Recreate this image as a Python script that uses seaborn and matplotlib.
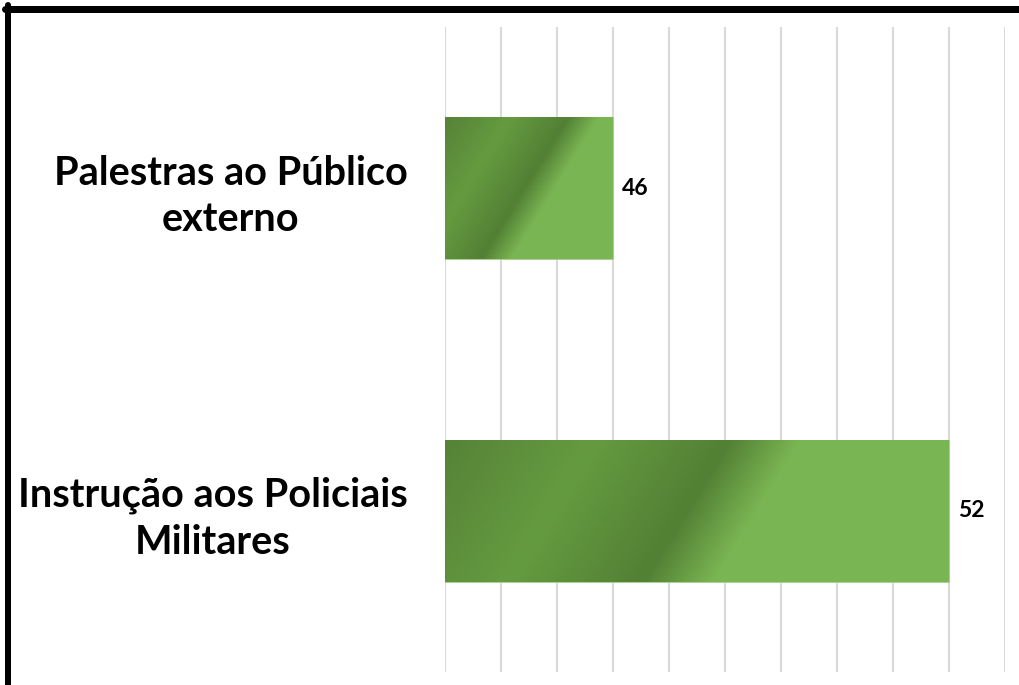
import numpy as np
import pandas as pd
import matplotlib
matplotlib.use("Agg")
import matplotlib.pyplot as plt
import matplotlib.colors as mcolors
from matplotlib.lines import Line2D
import seaborn as sns

categories = ["Palestras ao Público\nexterno", "Instrução aos Policiais\nMilitares"]
values = [46, 52]
x_min, x_max = 43, 53

sns.set_theme(style="white")
plt.rcParams['font.family'] = ['Lato', 'DejaVu Sans']

df = pd.DataFrame({"cat": categories, "val": values})

W, H = 1019, 685
fig = plt.figure(figsize=(W / 100, H / 100), dpi=100)
ax = fig.add_axes([445 / W, 13 / H, 560 / W, 645 / H])

sns.barplot(data=df, x="val", y="cat", orient="h", color="#6aa84f", width=0.44, ax=ax)

ax.set_xlim(x_min, x_max)
ax.set_ylim(1.5, -0.5)
ax.set_xticks(np.arange(x_min, x_max + 1, 1))
ax.xaxis.grid(True, color="#d9d9d9", linewidth=1.5)
ax.set_axisbelow(True)
ax.tick_params(axis="x", labelbottom=False, length=0)
ax.tick_params(axis="y", length=0, pad=27)
for s in ax.spines.values():
    s.set_visible(False)
ax.set_xlabel("")
ax.set_ylabel("")
for lbl in ax.get_yticklabels():
    lbl.set_fontsize(28.5)
    lbl.set_fontweight("bold")
    lbl.set_color("black")
    lbl.set_multialignment("center")
    lbl.set_linespacing(1.3)

# gradient fill
cmap = mcolors.LinearSegmentedColormap.from_list(
    "g", [(0.0, "#568337"), (0.25, "#659b40"), (0.48, "#528034"),
          (0.6, "#7ab553"), (1.0, "#7bb654")])
px_per_x = 560 / (x_max - x_min)
px_per_y = 645 / 2.0
tilt = 0.62
for patch in ax.patches:
    x0 = max(patch.get_x(), x_min)
    x1 = patch.get_x() + patch.get_width()
    y0 = patch.get_y()
    y1 = y0 + patch.get_height()
    wpx = int((x1 - x0) * px_per_x)
    hpx = int(abs(y1 - y0) * px_per_y)
    xx, yy = np.meshgrid(np.arange(wpx), np.arange(hpx))
    p = (xx + tilt * yy) / (wpx + tilt * hpx)
    img = ax.imshow(p, cmap=cmap, vmin=0, vmax=1, aspect="auto",
                    extent=(x0, x1, y1, y0), origin="upper",
                    interpolation="bilinear", zorder=patch.get_zorder() + 0.1)
    img.set_clip_path(patch)
    patch.set_edgecolor("#a9d18e")
    patch.set_linewidth(0.6)

for v, patch in zip(values, ax.patches):
    yc = patch.get_y() + patch.get_height() / 2
    ax.annotate(f"{v}", xy=(v, yc), xytext=(9, 0), textcoords="offset pixels",
                ha="left", va="center", fontsize=16.5, fontweight="bold", color="black")

ax.set_xlim(x_min, x_max)
ax.set_ylim(1.5, -0.5)

# frame lines (top and left)
fig.add_artist(Line2D([5 / W, 1.0], [1 - 8.5 / H, 1 - 8.5 / H], color="black",
                      linewidth=7 * 0.72, transform=fig.transFigure))
fig.add_artist(Line2D([8 / W, 8 / W], [0, 1 - 5 / H], color="black",
                      linewidth=6 * 0.72, transform=fig.transFigure))

fig.savefig("out.png", dpi=100)
